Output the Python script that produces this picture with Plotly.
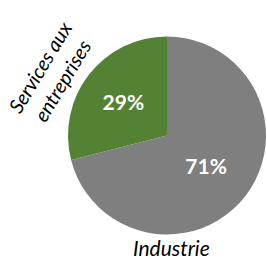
import plotly.graph_objects as go

labels = ["Industrie", "Services aux entreprises"]
values = [71, 29]
colors = ["#7f7f7f", "#548235"]

W, H = 267, 261

fig = go.Figure(go.Pie(
    labels=labels, values=values, sort=False, direction="clockwise", rotation=0,
    marker=dict(colors=colors, line=dict(width=0)),
    textinfo="percent", textposition="inside", insidetextorientation="horizontal",
    texttemplate="%{percent:.0%}",
    textfont=dict(family="Lato", size=21, color="white", weight="bold"),
    domain=dict(x=[68/W, 266/W], y=[26.5/H, 224.5/H]),
    showlegend=False, hoverinfo="none",
))

fig.add_annotation(text="<i>" + labels[0] + "</i>", x=171/W, y=0, xref="paper", yref="paper",
                   xanchor="center", yanchor="bottom", borderpad=0,
                   showarrow=False, font=dict(family="Lato", size=21, color="black"))
fig.add_annotation(text="<i>Services aux<br>entreprises</i>", x=51.5/W, y=1-73.5/H, xref="paper", yref="paper",
                   xanchor="center", yanchor="middle",
                   showarrow=False, textangle=-59, font=dict(family="Lato", size=20, color="black"))

fig.update_layout(width=W, height=H, margin=dict(l=0, r=0, t=0, b=0),
                  paper_bgcolor="white", plot_bgcolor="white")
fig.write_html("out.html", config={"displayModeBar": False},
               post_script="document.body.style.margin='0';document.body.style.overflow='hidden';")
